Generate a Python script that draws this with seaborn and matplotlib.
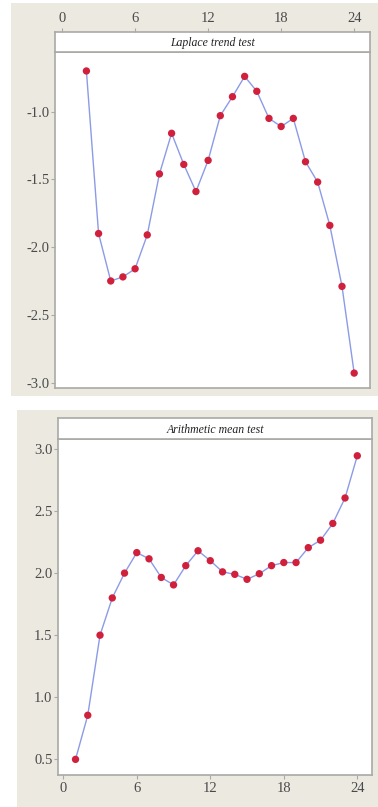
import numpy as np
import pandas as pd
import matplotlib
matplotlib.use("Agg")
import matplotlib.pyplot as plt
from matplotlib.patches import Rectangle
import seaborn as sns

# ---- data ----
laplace_x = list(range(2, 25))
laplace_y = [-0.70, -1.90, -2.25, -2.22, -2.16, -1.91, -1.46, -1.16, -1.39, -1.59,
             -1.36, -1.03, -0.89, -0.74, -0.85, -1.05, -1.11, -1.05, -1.37, -1.52,
             -1.84, -2.29, -2.93]
mean_x = list(range(1, 25))
mean_y = [0.50, 0.855, 1.50, 1.80, 2.00, 2.165, 2.115, 1.965, 1.905, 2.06,
          2.18, 2.10, 2.01, 1.99, 1.95, 1.995, 2.06, 2.085, 2.085, 2.205,
          2.265, 2.40, 2.605, 2.945]
xticks = [0, 6, 12, 18, 24]
top_yticks = [-1.0, -1.5, -2.0, -2.5, -3.0]
bot_yticks = [3.0, 2.5, 2.0, 1.5, 1.0, 0.5]
titles = ["Laplace trend test", "Arithmetic mean test"]

sns.set_theme(style="white")
plt.rcParams['font.family'] = ['Liberation Serif', 'DejaVu Serif']

W, H = 378, 807
BG = "#ECE9E1"
EDGE = "#A9A9A6"
LINE_C = "#8C9BE6"
MK_C = "#D0203C"
TXT = "#4A4A4A"

fig = plt.figure(figsize=(W / 100, H / 100), dpi=100, facecolor="white")

def bg_rect(l, r, t, b):
    fig.patches.append(Rectangle((l / W, 1 - b / H), (r - l) / W, (b - t) / H,
                                 transform=fig.transFigure, facecolor=BG,
                                 edgecolor="none", zorder=-10))

bg_rect(11, 378, 3, 396)
bg_rect(17, 378, 410, 807)

def add_ax(l, r, t, b):
    return fig.add_axes([l / W, 1 - b / H, (r - l) / W, (b - t) / H])

def panel(l, r, strip_top, strip_bot, bot, x, y, xlim, ylim, yticks, title, ticks_top):
    ax = add_ax(l, r, strip_bot, bot)
    st = add_ax(l, r, strip_top, strip_bot)
    df = pd.DataFrame({"x": x, "y": y})
    sns.lineplot(data=df, x="x", y="y", ax=ax, color=LINE_C, linewidth=1.0, zorder=2)
    sns.scatterplot(data=df, x="x", y="y", ax=ax, color=MK_C, s=28, edgecolor="none",
                    zorder=3)
    ax.set_xlim(*xlim)
    ax.set_ylim(*ylim)
    ax.set_facecolor("white")
    ax.set_xlabel("")
    ax.set_ylabel("")
    ax.set_yticks(yticks)
    ax.set_yticklabels([f"{v:.1f}" for v in yticks])
    ax.tick_params(axis="y", left=True, length=3, width=0.8, color=EDGE,
                   labelsize=10.5, labelcolor=TXT, pad=1)
    for s in ax.spines.values():
        s.set_color(EDGE)
        s.set_linewidth(1.2)
    st.set_xlim(*xlim)
    st.set_ylim(0, 1)
    st.set_facecolor("white")
    st.set_yticks([])
    for s in st.spines.values():
        s.set_color(EDGE)
        s.set_linewidth(1.2)
    st.text(0.5, 0.45, title, transform=st.transAxes, ha="center", va="center",
            fontsize=8.5, style="italic", color="#222222")
    if ticks_top:
        ax.set_xticks([])
        st.set_xticks(xticks)
        st.xaxis.tick_top()
        st.tick_params(axis="x", top=True, length=3, width=0.8, color=EDGE,
                       labelsize=10.5, labelcolor=TXT, pad=2)
    else:
        st.set_xticks([])
        ax.set_xticks(xticks)
        ax.tick_params(axis="x", bottom=True, length=3, width=0.8, color=EDGE,
                       labelsize=10.5, labelcolor=TXT, pad=2)
    return ax

panel(55, 370, 32, 52, 388, laplace_x, laplace_y, (-0.58, 25.3), (-3.04, -0.56),
      top_yticks, titles[0], True)
panel(58, 372, 418, 439, 775, mean_x, mean_y, (-0.43, 25.2), (0.374, 3.08),
      bot_yticks, titles[1], False)

fig.savefig("out.png", dpi=100, facecolor="white")
